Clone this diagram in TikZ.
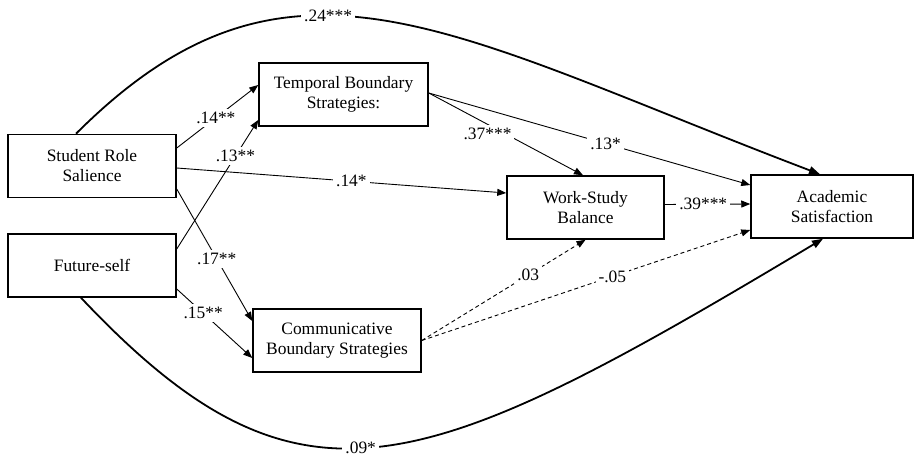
\documentclass[tikz,border=0pt]{standalone}
\usepackage{fontspec}
\setmainfont{Liberation Serif}
\usetikzlibrary{arrows.meta}

\begin{document}
\begin{tikzpicture}[x=1pt, y=-1pt,
    box/.style={draw, line width=1.5pt, minimum height=63pt, align=center, inner sep=0pt,
        font=\fontsize{17.4pt}{20pt}\selectfont},
    lbl/.style={fill=white, inner sep=3pt, font=\fontsize{17.4pt}{20pt}\selectfont},
    eff/.style={line width=0.9pt, -{Triangle[length=9pt,width=7pt]}},
    nseff/.style={eff, dash pattern=on 4pt off 3pt},
    curve/.style={line width=1.8pt, -{Triangle[length=11pt,width=8pt]}}]
    \useasboundingbox (0,0) rectangle (915,457);

    % Predictors
    \node[box, minimum width=168pt] (srs) at (92,166) {Student Role\\Salience};
    \node[box, minimum width=168pt] (fs) at (92,265.5) {Future-self};

    % Mediators
    \node[box, minimum width=169pt] (tbs) at (343.5,94.5) {Temporal Boundary\\Strategies:};
    \node[box, minimum width=168pt] (cbs) at (337,340.5) {Communicative\\Boundary Strategies};
    \node[box, minimum width=157pt] (wsb) at (585.5,207.5) {Work-Study\\Balance};

    % Outcome
    \node[box, minimum width=162pt] (as) at (832,206.5) {Academic\\Satisfaction};

    % Paths to temporal strategies
    \draw[eff] ([yshift=18pt]srs.east) -- node[lbl, pos=0.48] {.14**} ([yshift=9.5pt]tbs.west);
    \draw[eff] ([yshift=16.5pt]fs.east) -- node[lbl, pos=0.72] {.13**} ([yshift=-25.5pt]tbs.west);

    % Paths to communicative strategies
    \draw[eff] ([yshift=-23pt]srs.east) -- node[lbl, pos=0.53] {.17**} ([yshift=19.5pt]cbs.west);
    \draw[eff] ([yshift=-23.5pt]fs.east) -- node[lbl, pos=0.35] {.15**} ([yshift=-17.5pt]cbs.west);

    % Paths to work-study balance
    \draw[eff] ([yshift=-2pt]srs.east) -- node[lbl, pos=0.53] {.14*} ([yshift=14.5pt]wsb.west);
    \draw[eff] ([yshift=1.5pt]tbs.east) -- node[lbl, pos=0.42, xshift=-6pt, yshift=-6pt] {.37***} ([xshift=-2.5pt]wsb.north);
    \draw[nseff] (cbs.east) -- node[lbl, pos=0.65] {.03} (wsb.south);

    % Paths to academic satisfaction
    \draw[eff] ([yshift=1.5pt]tbs.east) -- node[lbl, pos=0.55] {.13*} ([yshift=21.5pt]as.west);
    \draw[eff] ([yshift=3pt]wsb.east) -- node[lbl, pos=0.45] {.39***} ([yshift=2.5pt]as.west);
    \draw[nseff] (cbs.east) -- node[lbl, pos=0.58] {-.05} ([yshift=-23.5pt]as.west);

    % Direct effects
    \draw[curve] ([xshift=-16pt]srs.north) .. controls (288,-78) and (446,32) .. node[lbl, pos=0.41] {.24***} ([xshift=-12pt]as.north);
    \draw[curve] ([xshift=-11pt]fs.south) .. controls (300,530) and (420,480) .. node[lbl, pos=0.465] {.09*} ([xshift=-9pt]as.south);
\end{tikzpicture}
\end{document}
